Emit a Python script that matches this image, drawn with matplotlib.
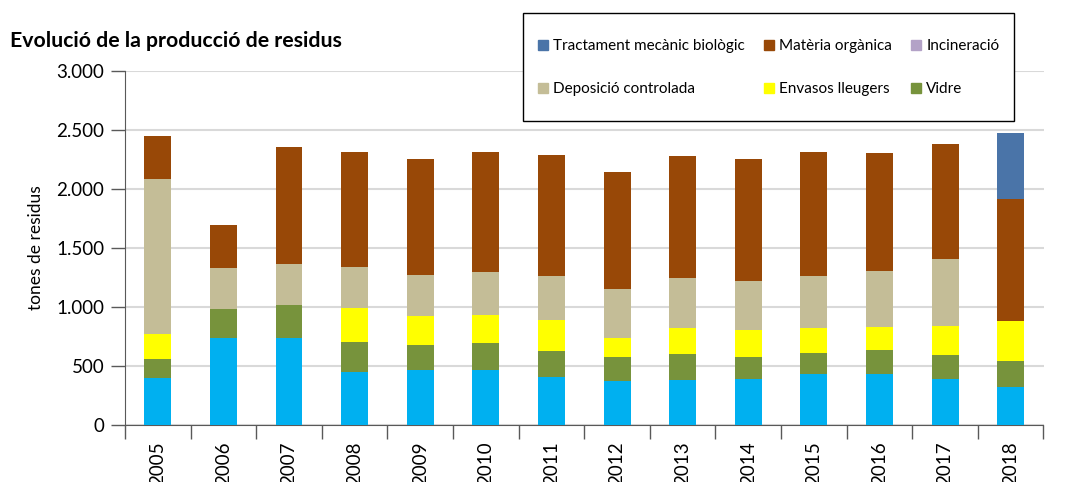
#!/usr/bin/env python3

import matplotlib
matplotlib.use("Agg")
import matplotlib.pyplot as plt
from matplotlib.ticker import FuncFormatter, FixedLocator
from matplotlib.patches import Patch, Rectangle
import numpy as np

plt.rcParams['font.family'] = ['Lato', 'DejaVu Sans']

years = ['2005', '2006', '2007', '2008', '2009', '2010', '2011',
         '2012', '2013', '2014', '2015', '2016', '2017', '2018']

# tones per category (bottom to top)
paper = [395, 735, 735, 447, 464, 464, 402, 368, 379, 385, 430, 430, 385, 317]
vidre = [159, 244, 278, 252, 209, 226, 220, 203, 218, 186, 175, 201, 203, 220]
envasos = [212, 0, 0, 288, 246, 238, 264, 162, 221, 230, 213, 196, 247, 340]
deposicio = [1316, 348, 348, 349, 348, 365, 373, 416, 424, 416, 441, 475, 568, 0]
organica = [365, 365, 993, 976, 985, 1019, 1027, 993, 1036, 1035, 1053, 1001, 977, 1035]
incineracio = [0, 0, 0, 0, 0, 0, 0, 0, 0, 0, 0, 0, 0, 0]
tmb = [0, 0, 0, 0, 0, 0, 0, 0, 0, 0, 0, 0, 0, 562]

# Colors
c_paper = '#00B0F0'
c_vidre = '#77933C'
c_envasos = '#FFFF00'
c_deposicio = '#C4BD97'
c_organica = '#984807'
c_incineracio = '#B3A2C7'
c_tmb = '#4A74A8'

W, H = 1067, 482
fig = plt.figure(figsize=(W / 100, H / 100), dpi=100)
ax = fig.add_axes([125 / W, 1 - 424.5 / H, 918.5 / W, 353.5 / H])

x = np.arange(len(years))
w = 0.41
bottom = np.zeros(len(years))
series = [(paper, c_paper), (vidre, c_vidre), (envasos, c_envasos),
          (deposicio, c_deposicio), (organica, c_organica),
          (incineracio, c_incineracio), (tmb, c_tmb)]
for vals, col in series:
    ax.bar(x, vals, w, bottom=bottom, color=col, zorder=3)
    bottom += np.array(vals)

ax.set_xlim(-0.5, len(years) - 0.5)
ax.set_ylim(0, 3000)
ax.set_yticks(range(0, 3001, 500))
ax.yaxis.set_major_formatter(FuncFormatter(lambda v, p: f'{int(v):,}'.replace(',', '.')))
ax.grid(axis='y', color='#D9D9D9', linewidth=1.5, zorder=0)

# year labels at bar centres, tick marks at category boundaries
ax.set_xticks(x)
ax.set_xticklabels(years, rotation=90, fontsize=13.5)
ax.tick_params(axis='x', which='major', length=0, pad=12)
ax.xaxis.set_minor_locator(FixedLocator(np.arange(-0.5, len(years), 1.0)))
ax.tick_params(axis='x', which='minor', length=10, width=1, color='#595959', direction='out')
ax.tick_params(axis='y', length=10, width=1, color='#595959', labelsize=13.5, pad=5)

for s in ['top', 'right']:
    ax.spines[s].set_visible(False)
for s in ['left', 'bottom']:
    ax.spines[s].set_color('#595959')

ax.set_ylabel('tones de residus', fontsize=12.5)
ax.yaxis.set_label_coords(-0.088, 0.5)

fig.text(10 / W, 1 - 41 / H, 'Evolució de la producció de residus',
         fontsize=15.3, fontweight='bold', va='center', ha='left')

# legend box
frame = Rectangle((523 / W, 1 - 121 / H), 491 / W, 108 / H, transform=fig.transFigure,
                  facecolor='white', edgecolor='black', linewidth=1, zorder=5)
fig.add_artist(frame)

# legend (column-wise order so rows read as in the original)
handles = [
    Patch(color=c_tmb, label='Tractament mecànic biològic'),
    Patch(color=c_deposicio, label='Deposició controlada'),
    Patch(color=c_organica, label='Matèria orgànica'),
    Patch(color=c_envasos, label='Envasos lleugers'),
    Patch(color=c_incineracio, label='Incineració'),
    Patch(color=c_vidre, label='Vidre'),
]
leg = fig.legend(handles=handles, ncol=3, loc='upper left',
                 bbox_to_anchor=(537.7 / W, 1 - 39 / H),
                 fontsize=11, frameon=False, handlelength=0.65, handleheight=0.65,
                 handletextpad=0.35, labelspacing=1.9, borderpad=0, borderaxespad=0,
                 columnspacing=1.25)
leg.set_zorder(10)

plt.savefig('out.png', dpi=100)
